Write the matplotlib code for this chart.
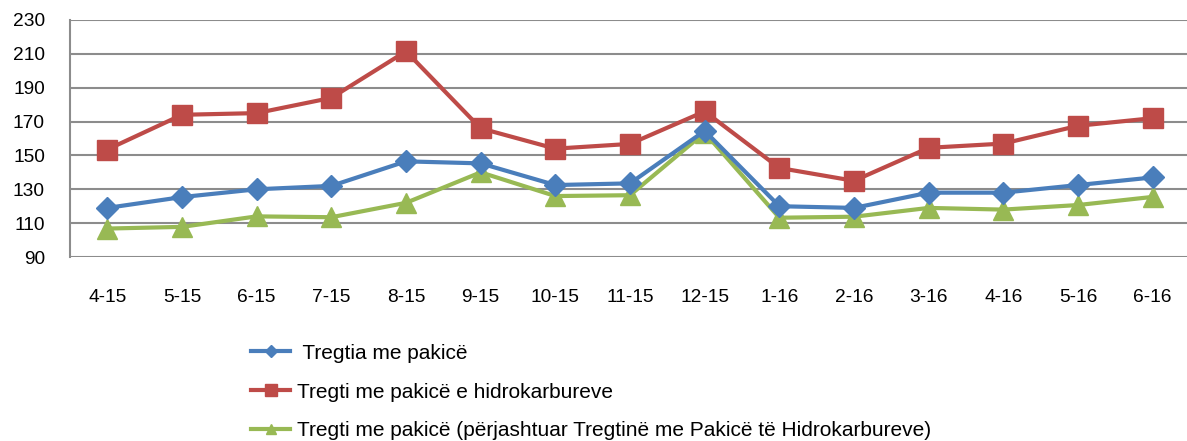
import matplotlib
matplotlib.use("Agg")
import matplotlib.pyplot as plt

categories = ["4-15", "5-15", "6-15", "7-15", "8-15", "9-15", "10-15", "11-15",
              "12-15", "1-16", "2-16", "3-16", "4-16", "5-16", "6-16"]
retail = [119, 125.4, 130, 132, 146.5, 145.3, 132.5, 133.5, 164.5, 120, 119, 128, 128, 132.5, 137]
fuel = [153.5, 174, 175, 184, 211.5, 166, 154, 156.8, 176, 142.6, 135, 154.5, 157, 167.5, 172]
nonfuel = [106.8, 107.8, 114, 113.5, 122, 140, 126, 126.5, 163.5, 113.2, 113.8, 119, 118, 120.7, 125.5]
labels = [" Tregtia me pakicë", "Tregti me pakicë e hidrokarbureve",
          "Tregti me pakicë (përjashtuar Tregtinë me Pakicë të Hidrokarbureve)"]
yticks = [90, 110, 130, 150, 170, 190, 210, 230]

plt.rcParams['font.family'] = ['Liberation Sans', 'DejaVu Sans']

fig = plt.figure(figsize=(11.87, 4.41), dpi=100)
ax = fig.add_axes([70/1187, 1-257/441, 1120/1187, 237/441])

x = list(range(len(categories)))
blue, red, green = "#4A7EBB", "#BE4B48", "#98B954"
h1, = ax.plot(x, retail, color=blue, lw=3, marker="D", ms=11, label=labels[0], zorder=4)
h2, = ax.plot(x, fuel, color=red, lw=3, marker="s", ms=15, label=labels[1], zorder=3)
h3, = ax.plot(x, nonfuel, color=green, lw=3, marker="^", ms=14, label=labels[2], zorder=3)

ax.set_xlim(-0.5, len(categories) - 0.5)
ax.set_ylim(90, 230)
ax.set_yticks(yticks)
ax.set_xticks(x)
ax.set_xticklabels(categories)
ax.yaxis.grid(True, color="#8C8C8C", lw=1.5)
ax.set_axisbelow(True)
for s in ["top", "right", "bottom"]:
    ax.spines[s].set_visible(False)
ax.spines["left"].set_color("#8C8C8C")
ax.spines["left"].set_linewidth(1.5)
ax.tick_params(axis="both", length=0, labelsize=13.8, colors="black")
ax.tick_params(axis="x", pad=23)
ax.tick_params(axis="y", pad=18)

leg = fig.legend(handles=[h1, h2, h3], loc="upper left", bbox_to_anchor=(232/1187, 1-325/441),
                 frameon=False, fontsize=15, handlelength=1.9, handletextpad=0.3,
                 labelspacing=0.95, markerscale=0.55)

fig.savefig("out.png", dpi=100)
